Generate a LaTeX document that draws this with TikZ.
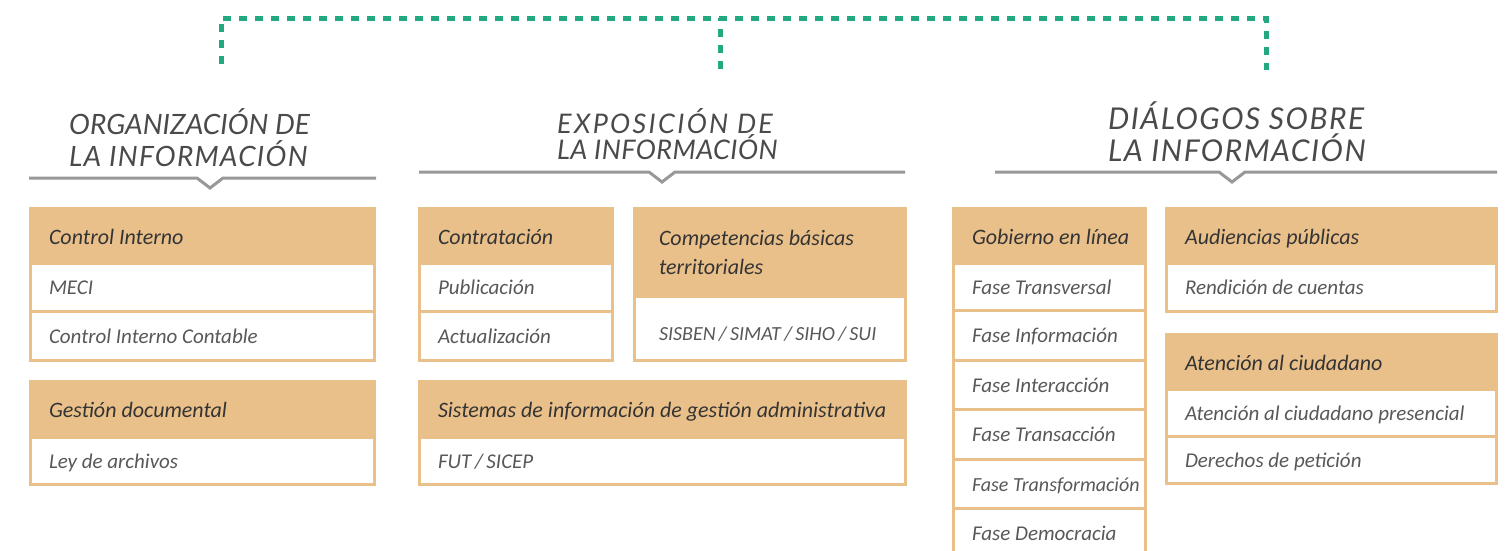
\documentclass[tikz,border=0pt]{standalone}
\usepackage{fontspec}
\setmainfont{Carlito}
\newfontfamily\titlefont{Lato}
\usepackage{tikz}
\usetikzlibrary{positioning}

\definecolor{tan}{RGB}{233,192,138}
\definecolor{hdrtext}{RGB}{52,52,52}
\definecolor{rowtext}{RGB}{88,88,88}
\definecolor{ttltext}{RGB}{74,74,74}
\definecolor{rulegray}{RGB}{152,152,152}
\definecolor{dotgreen}{RGB}{35,168,128}

\tikzset{
  cell/.style={draw=tan, line width=3pt, anchor=north west, inner xsep=18.5pt,
               inner ysep=0pt, outer sep=0pt, align=flush left},
  hdr/.style={cell, fill=tan, text=hdrtext, text height=22pt, text depth=5pt,
              font=\fontsize{22}{29}\selectfont\itshape},
  row/.style={cell, fill=white, text=rowtext, text height=20pt, text depth=5pt,
              font=\fontsize{21}{25}\selectfont\itshape},
  ttl/.style={anchor=north west, inner sep=0pt, align=left, text=ttltext},
  rule/.style={draw=rulegray, line width=3pt},
  dots/.style={draw=dotgreen, line width=5pt, dash pattern=on 8pt off 8pt}
}

\begin{document}
\begin{tikzpicture}[x=1pt, y=-1pt]
  \useasboundingbox (0,0) rectangle (1511,550);

  % green dotted bracket
  \coordinate (dropA) at (221,64);
  \coordinate (dropB) at (720,69);
  \coordinate (dropC) at (1266,70);
  \draw[dots] (dropA) -- ++(0,-46) -| (dropC);
  \draw[dots] (dropB) -- ++(0,-51);

  % titles
  \node[ttl, font=\titlefont\itshape\fontsize{28}{32}\selectfont] (orgT) at (69,108)
    {ORGANIZACIÓN DE\\{\addfontfeatures{LetterSpace=4.4}LA INFORMACIÓN}};
  \node[ttl, font=\titlefont\itshape\fontsize{27}{26}\selectfont] (expT) at (557,108)
    {{\addfontfeatures{LetterSpace=8.5}EXPOSICIÓN DE}\\{\addfontfeatures{LetterSpace=1.5}LA INFORMACIÓN}};
  \node[ttl, font=\titlefont\itshape\fontsize{30}{32}\selectfont\addfontfeatures{LetterSpace=5}] (dialT) at (1108,102)
    {DIÁLOGOS SOBRE\\LA INFORMACIÓN};

  % rules with notch
  \draw[rule] (29,178) -- (197,178) -- (210,188) -- (223,178) -- (376,178);
  \draw[rule] (419,172) -- (649,172) -- (662,182) -- (675,172) -- (905,172);
  \draw[rule] (995,172) -- (1219,172) -- (1232,182) -- (1245,172) -- (1497,172);

  % organizacion
  \node[hdr, text width=307pt, minimum height=54.5pt] (ctrl) at (30.5,208.5) {Control Interno};
  \node[row, text width=307pt, minimum height=48.5pt, below=0pt of ctrl] (meci) {MECI};
  \node[row, text width=307pt, minimum height=49pt, below=0pt of meci] (cic) {Control Interno Contable};

  \node[hdr, text width=307pt, minimum height=55.5pt] (gdoc) at (30.5,381.5) {Gestión documental};
  \node[row, text width=307pt, minimum height=47.5pt, below=0pt of gdoc] (ley) {Ley de archivos};

  % exposicion
  \node[hdr, text width=156pt, minimum height=54.5pt] (contr) at (419.5,208.5) {Contratación};
  \node[row, text width=156pt, minimum height=48.5pt, below=0pt of contr] (publ) {Publicación};
  \node[row, text width=156pt, minimum height=49pt, below=0pt of publ] (actu) {Actualización};

  \node[hdr, text width=222pt, inner xsep=24.5pt, minimum height=87.5pt,
        text height={}, text depth={}] (comp) at (634.5,208.5) {Competencias básicas\\territoriales};
  \node[row, text width=222pt, inner xsep=24.5pt, minimum height=64.5pt, below=0pt of comp,
        text height=30pt, font=\fontsize{20}{24}\selectfont\itshape] (sisb) {SISBEN\,/\,SIMAT\,/\,SIHO\,/\,SUI};

  \node[hdr, text width=449pt, minimum height=55.5pt] (sist) at (419.5,381.5)
    {\mbox{Sistemas de información de gestión administrativa}};
  \node[row, text width=449pt, minimum height=47.5pt, below=0pt of sist] (fut) {FUT\,/\,SICEP};

  % dialogos
  \node[hdr, text width=155pt, minimum height=54.5pt] (gob) at (953.5,208.5) {\mbox{Gobierno en línea}};
  \node[row, text width=155pt, minimum height=47.5pt, below=0pt of gob] (fase1) {Fase Transversal};
  \node[row, text width=155pt, minimum height=49.5pt, below=0pt of fase1] (fase2) {Fase Información};
  \node[row, text width=155pt, minimum height=49.5pt, below=0pt of fase2] (fase3) {Fase Interacción};
  \node[row, text width=155pt, minimum height=49.5pt, below=0pt of fase3] (fase4) {Fase Transacción};
  \node[row, text width=155pt, minimum height=49.5pt, below=0pt of fase4,
        font=\fontsize{20}{25}\selectfont\itshape] (fase5) {\mbox{Fase Transformación}};
  \node[row, text width=155pt, minimum height=49.5pt, below=0pt of fase5] (fase6) {Fase Democracia};

  \node[hdr, text width=293pt, minimum height=54.5pt] (aud) at (1166.5,208.5) {Audiencias públicas};
  \node[row, text width=293pt, minimum height=48.5pt, below=0pt of aud] (rend) {Rendición de cuentas};

  \node[hdr, text width=293pt, minimum height=54.5pt] (aten) at (1166.5,334.5) {Atención al ciudadano};
  \node[row, text width=293pt, minimum height=47pt, below=0pt of aten] (pres) {Atención al ciudadano presencial};
  \node[row, text width=293pt, minimum height=47.5pt, below=0pt of pres] (peti) {Derechos de petición};
\end{tikzpicture}
\end{document}
